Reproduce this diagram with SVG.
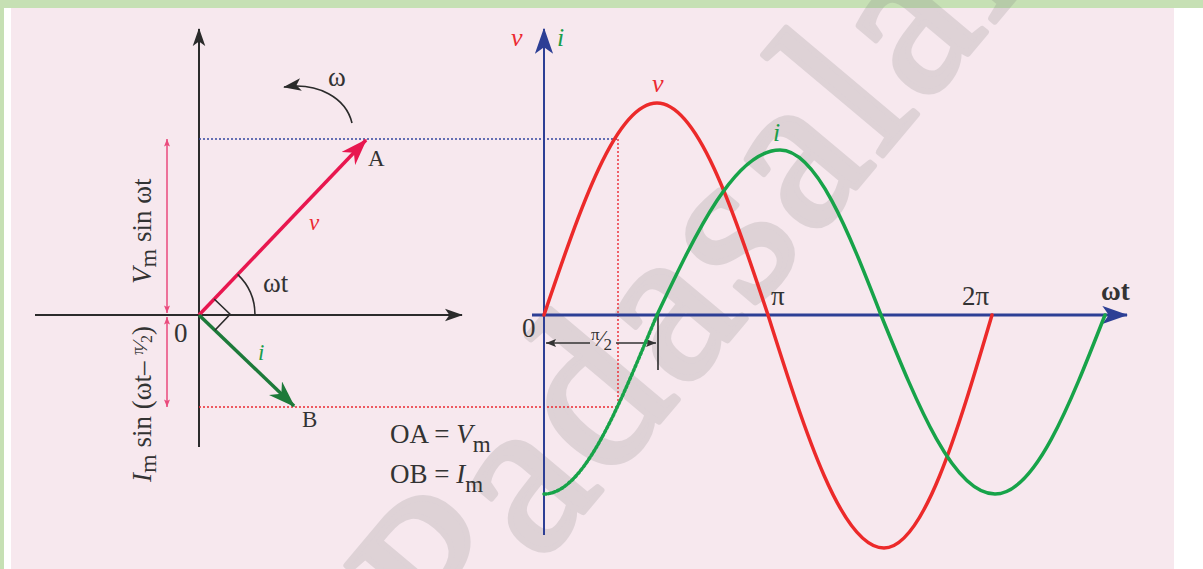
<svg xmlns="http://www.w3.org/2000/svg" width="1203" height="569" viewBox="0 0 1203 569">
  <style>
    text { font-family: "Liberation Serif", "Times New Roman", serif; }
    .lbl { font-size: 27px; fill: #333; }
    .sm { font-size: 23px; fill: #333; }
    .it { font-style: italic; }
    .red { fill: #ec2a32; }
    .grn { fill: #1a9e4a; }
    .axk { stroke: #2b2b2b; stroke-width: 2; fill: none; }
    .axb { stroke: #2d3f95; fill: none; }
    .dotb { stroke: #3545a0; stroke-width: 1.4; stroke-dasharray: 2 2; fill: none; }
    .dotr { stroke: #ec2a32; stroke-width: 1.4; stroke-dasharray: 2 2; fill: none; }
    .cr { stroke: #ec2a2a; stroke-width: 3.5; fill: none; stroke-linecap: round; }
    .cg { stroke: #17a349; stroke-width: 3.5; fill: none; stroke-linecap: round; }
    .pk { stroke: #ea4a7c; stroke-width: 1.5; fill: none; }
  </style>
  <defs>
    <marker id="ahK" viewBox="0 0 20 14" refX="19" refY="7" markerWidth="18" markerHeight="14" markerUnits="userSpaceOnUse" orient="auto">
      <path d="M0,0 L20,7 L0,14 L5,7 z" fill="#2b2b2b"/>
    </marker>
    <marker id="ahB" viewBox="0 0 20 14" refX="19" refY="7" markerWidth="26" markerHeight="19" markerUnits="userSpaceOnUse" orient="auto">
      <path d="M0,0 L20,7 L0,14 L5,7 z" fill="#2d3f95"/>
    </marker>
    <marker id="ahR" viewBox="0 0 20 14" refX="19" refY="7" markerWidth="27" markerHeight="19" markerUnits="userSpaceOnUse" orient="auto">
      <path d="M0,0 L20,7 L0,14 L6,7 z" fill="#e8174f"/>
    </marker>
    <marker id="ahG" viewBox="0 0 20 14" refX="19" refY="7" markerWidth="27" markerHeight="19" markerUnits="userSpaceOnUse" orient="auto">
      <path d="M0,0 L20,7 L0,14 L6,7 z" fill="#1d7a3a"/>
    </marker>
    <marker id="ahP" viewBox="0 0 10 8" refX="10" refY="4" markerWidth="8" markerHeight="6" markerUnits="userSpaceOnUse" orient="auto-start-reverse">
      <path d="M0,0 L10,4 L0,8 L2,4 z" fill="#ea4a7c"/>
    </marker>
    <marker id="ahS" viewBox="0 0 10 8" refX="10" refY="4" markerWidth="11" markerHeight="8" markerUnits="userSpaceOnUse" orient="auto-start-reverse">
      <path d="M0,0 L10,4 L0,8 L2,4 z" fill="#333"/>
    </marker>
  </defs>

  <!-- background -->
  <rect x="0" y="0" width="1203" height="569" fill="#ffffff"/>
  <rect x="11" y="8" width="1163" height="561" fill="#f7e8ee"/>
  <rect x="0" y="0" width="1203" height="8" fill="#c6e0b4"/>
  <rect x="0" y="0" width="4" height="569" fill="#c6e0b4"/>

  <!-- watermark -->
  <text x="0" y="0" transform="translate(455,665) rotate(-50)" font-family="'Liberation Sans', Arial, sans-serif" font-size="225" letter-spacing="6" fill="#7c7c7c" stroke="#7c7c7c" stroke-width="6" stroke-linejoin="round" opacity="0.2">Padasalai</text>

  <!-- connectors / lines -->
  <g id="connectors">
    <!-- left axes -->
    <line class="axk" x1="199" y1="447" x2="199" y2="29" marker-end="url(#ahK)"/>
    <line class="axk" x1="35" y1="315" x2="462" y2="315" marker-end="url(#ahK)"/>
    <!-- projection lines -->
    <line class="dotb" x1="199" y1="139" x2="618" y2="139"/>
    <line class="dotr" x1="199" y1="407" x2="618" y2="407"/>
    <line class="dotr" x1="618" y1="139" x2="618" y2="407"/>
    <!-- pink dimension arrows -->
    <line class="pk" x1="167" y1="139" x2="167" y2="313" marker-start="url(#ahP)" marker-end="url(#ahP)"/>
    <line class="pk" x1="167" y1="317" x2="167" y2="407" marker-start="url(#ahP)" marker-end="url(#ahP)"/>
    <!-- phasors -->
    <line x1="199" y1="315" x2="366" y2="140" stroke="#e8174f" stroke-width="3.5" marker-end="url(#ahR)"/>
    <line x1="199" y1="315" x2="294" y2="406" stroke="#1d7a3a" stroke-width="3.5" marker-end="url(#ahG)"/>
    <!-- angle arc and right angle -->
    <path d="M237.6,274.4 A56,56 0 0 1 255,315" stroke="#2b2b2b" stroke-width="1.6" fill="none"/>
    <polyline points="214.2,299 230.1,314.2 214.9,330.2" stroke="#2b2b2b" stroke-width="1.6" fill="none"/>
    <!-- rotation arrow -->
    <path d="M352,123 C346,98 318,82 284,87" stroke="#2b2b2b" stroke-width="1.6" fill="none" marker-end="url(#ahK)"/>

    <!-- right axes -->
    <line class="axb" stroke-width="2" x1="544" y1="535" x2="544" y2="29" marker-end="url(#ahB)"/>
    <line class="axb" stroke-width="3" stroke="#4456a6" x1="532" y1="315" x2="1127" y2="315" marker-end="url(#ahB)"/>
    <!-- pi/2 marker -->
    <line x1="546" y1="343" x2="590" y2="343" stroke="#333" stroke-width="1.5" marker-start="url(#ahS)"/>
    <line x1="616" y1="343" x2="656" y2="343" stroke="#333" stroke-width="1.5" marker-end="url(#ahS)"/>
    <line x1="658" y1="315" x2="658" y2="370" stroke="#2b2b2b" stroke-width="1.6"/>

    <!-- curves -->
    <path class="cr" d="M544,315 C580.8,206.4 616.1,103 657,103 C697.2,103 731.8,206.4 768,315 C805.8,434.4 842,548 884,548 C923.1,548 956.8,434.4 992,315"/>
    <path class="cg" stroke-width="3" stroke-dasharray="2.5 2" stroke-linecap="butt" d="M544,494 C584.9,494 620.2,402.3 657,315"/>
    <path class="cg" d="M657,315 C697.1,230.5 735.5,150 780,150 C816.6,150 848.1,230.5 881,315 C918.2,406.7 953.7,494 995,494 C1034.8,494 1069.1,406.7 1105,315"/>
  </g>

  <!-- labels -->
  <g id="labels-left">
    <text class="lbl" font-size="29" transform="translate(151,284) rotate(-90)"><tspan class="it">V</tspan><tspan font-size="24" dy="5">m</tspan><tspan dy="-5"> sin ωt</tspan></text>
    <text class="lbl" font-size="28" transform="translate(151,482) rotate(-90)"><tspan class="it">I</tspan><tspan font-size="24" dy="5">m</tspan><tspan dy="-5"> sin (ωt– </tspan><tspan font-size="16" dy="-8">π</tspan><tspan font-size="22" dy="4">⁄</tspan><tspan font-size="16" dy="5">2</tspan><tspan dy="-1">)</tspan></text>
    <text class="lbl" font-size="25" x="174" y="342">0</text>
    <text class="lbl" font-size="25" x="263" y="292">ωt</text>
    <text class="lbl" font-size="24" x="328" y="86">ω</text>
    <text class="sm" x="368" y="166">A</text>
    <text class="sm" x="302" y="427">B</text>
    <text class="sm it red" font-size="25" x="309" y="230">v</text>
    <text class="sm it grn" font-size="25" x="258" y="360">i</text>
    <text class="lbl" x="390" y="443">OA = <tspan class="it">V</tspan><tspan font-size="23" dy="9">m</tspan></text>
    <text class="lbl" x="390" y="483">OB = <tspan class="it">I</tspan><tspan font-size="23" dy="9">m</tspan></text>
  </g>

  <g id="labels-right">
    <text class="it red" font-size="26" x="511" y="46">v</text>
    <text class="it grn" font-size="26" x="557" y="46">i</text>
    <text class="it red" font-size="26" x="652" y="92">v</text>
    <text class="it grn" font-size="26" x="773" y="141">i</text>
    <text class="lbl" font-size="25" x="522" y="337">0</text>
    <text class="lbl" font-size="24" x="771" y="305">π</text>
    <text class="lbl" font-size="24" x="962" y="305">2π</text>
    <text class="lbl" font-size="23" font-weight="bold" x="1101" y="300">ωt</text>
    <text class="lbl" x="591" y="350"><tspan font-size="17" dy="-10">π</tspan><tspan font-size="23" dy="6">⁄</tspan><tspan font-size="17" dy="4">2</tspan></text>
  </g>
</svg>
